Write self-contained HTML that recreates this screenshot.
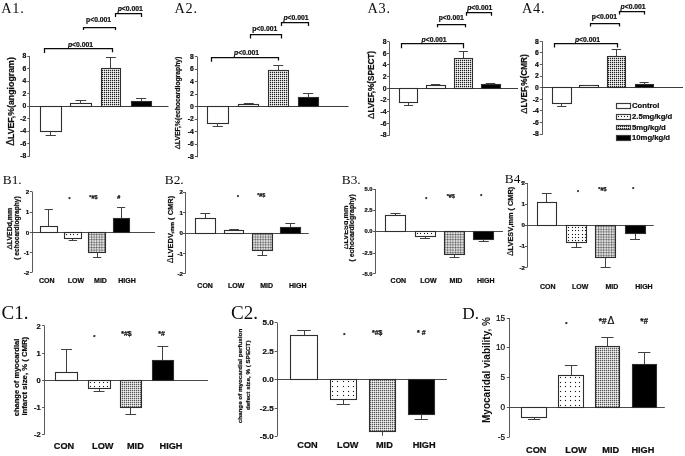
<!DOCTYPE html>
<html><head><meta charset="utf-8"><title>Figure</title>
<style>html,body{margin:0;padding:0;background:#fff;width:685px;height:456px;overflow:hidden}svg{display:block;filter:grayscale(1) blur(0.3px)}text{stroke:#111;stroke-width:0.22px}</style>
</head><body>
<svg width="685" height="456" viewBox="0 0 685 456"><defs><pattern id="p1" patternUnits="userSpaceOnUse" width="2" height="2"><rect width="2" height="2" fill="#f6f6f6"/><rect width="2" height="1" fill="#c8c8c8"/><rect width="1" height="2" fill="#c8c8c8"/><rect width="1" height="1" fill="#1e1e1e"/></pattern><pattern id="p2" patternUnits="userSpaceOnUse" width="2.6" height="2.6"><rect width="2.6" height="2.6" fill="#ececec"/><rect width="2.6" height="1" fill="#9a9a9a"/><rect width="1" height="2.6" fill="#9a9a9a"/><rect width="1" height="1" fill="#555"/></pattern><clipPath id="clipB3"><rect x="344.2" y="180" width="50" height="100"/></clipPath><pattern id="p3" patternUnits="userSpaceOnUse" width="2" height="2"><rect width="2" height="2" fill="#f0f0f0"/><rect width="2" height="1" fill="#c6c6c6"/><rect width="1" height="2" fill="#c6c6c6"/><rect width="1" height="1" fill="#555555"/></pattern></defs><rect width="685" height="456" fill="#fff"/><text x="1.3" y="13.3" font-family="Liberation Serif" font-size="14.3" font-weight="normal" text-anchor="start" fill="#0d0d0d" letter-spacing="0.7" style="stroke:none">A1.</text>
<line x1="29.5" y1="56" x2="29.5" y2="156.8" stroke="#5a5a5a" stroke-width="1.0"/>
<line x1="27.3" y1="56.5" x2="29.5" y2="56.5" stroke="#5a5a5a" stroke-width="1.0"/>
<text x="26.3" y="58.41" font-family="Liberation Sans" font-size="6.8" font-weight="bold" text-anchor="end" fill="#0d0d0d">8</text>
<line x1="27.3" y1="68.5" x2="29.5" y2="68.5" stroke="#5a5a5a" stroke-width="1.0"/>
<text x="26.3" y="70.91" font-family="Liberation Sans" font-size="6.8" font-weight="bold" text-anchor="end" fill="#0d0d0d">6</text>
<line x1="27.3" y1="81.5" x2="29.5" y2="81.5" stroke="#5a5a5a" stroke-width="1.0"/>
<text x="26.3" y="83.41" font-family="Liberation Sans" font-size="6.8" font-weight="bold" text-anchor="end" fill="#0d0d0d">4</text>
<line x1="27.3" y1="93.5" x2="29.5" y2="93.5" stroke="#5a5a5a" stroke-width="1.0"/>
<text x="26.3" y="95.91" font-family="Liberation Sans" font-size="6.8" font-weight="bold" text-anchor="end" fill="#0d0d0d">2</text>
<line x1="27.3" y1="106.5" x2="29.5" y2="106.5" stroke="#5a5a5a" stroke-width="1.0"/>
<text x="26.3" y="108.41" font-family="Liberation Sans" font-size="6.8" font-weight="bold" text-anchor="end" fill="#0d0d0d">0</text>
<line x1="27.3" y1="118.5" x2="29.5" y2="118.5" stroke="#5a5a5a" stroke-width="1.0"/>
<text x="26.3" y="120.91" font-family="Liberation Sans" font-size="6.8" font-weight="bold" text-anchor="end" fill="#0d0d0d">-2</text>
<line x1="27.3" y1="131.5" x2="29.5" y2="131.5" stroke="#5a5a5a" stroke-width="1.0"/>
<text x="26.3" y="133.41" font-family="Liberation Sans" font-size="6.8" font-weight="bold" text-anchor="end" fill="#0d0d0d">-4</text>
<line x1="27.3" y1="143.5" x2="29.5" y2="143.5" stroke="#5a5a5a" stroke-width="1.0"/>
<text x="26.3" y="145.91" font-family="Liberation Sans" font-size="6.8" font-weight="bold" text-anchor="end" fill="#0d0d0d">-6</text>
<line x1="27.3" y1="156.5" x2="29.5" y2="156.5" stroke="#5a5a5a" stroke-width="1.0"/>
<text x="26.3" y="158.41" font-family="Liberation Sans" font-size="6.8" font-weight="bold" text-anchor="end" fill="#0d0d0d">-8</text>
<text x="13.6" y="101.5" font-family="Liberation Sans" font-size="8.8" font-weight="bold" text-anchor="middle" fill="#0d0d0d" transform="rotate(-90 13.6 101.5)"><tspan font-weight="normal" font-size="1.15em">&#916;</tspan>LVEF,%(angiogram)</text>
<line x1="29.5" y1="106.5" x2="168.5" y2="106.5" stroke="#3c3c3c" stroke-width="1.0"/>
<rect x="40.5" y="106.5" width="21" height="25" fill="#fff" stroke="#2e2e2e" stroke-width="1.1"/>
<line x1="50.5" y1="131.3" x2="50.5" y2="135" stroke="#404040" stroke-width="1.0"/>
<line x1="45.62" y1="135.5" x2="55.88" y2="135.5" stroke="#404040" stroke-width="1.0"/>
<rect x="70.5" y="103.5" width="21" height="3" fill="#fff" stroke="#2e2e2e" stroke-width="1.1"/>
<line x1="80.5" y1="103.6" x2="80.5" y2="100.4" stroke="#404040" stroke-width="1.0"/>
<line x1="75.6" y1="100.5" x2="86.2" y2="100.5" stroke="#404040" stroke-width="1.0"/>
<rect x="101.5" y="68.5" width="19" height="38" fill="url(#p1)" stroke="#2e2e2e" stroke-width="1.1"/>
<line x1="110.5" y1="68.8" x2="110.5" y2="57.3" stroke="#404040" stroke-width="1.0"/>
<line x1="105.94" y1="57.5" x2="115.81" y2="57.5" stroke="#404040" stroke-width="1.0"/>
<rect x="131.5" y="101.5" width="20" height="5" fill="#000" stroke="#2e2e2e" stroke-width="1.1"/>
<line x1="141.5" y1="101.3" x2="141.5" y2="98.3" stroke="#404040" stroke-width="1.0"/>
<line x1="136.06" y1="98.5" x2="146.19" y2="98.5" stroke="#404040" stroke-width="1.0"/>
<polyline points="44.5,53 44.5,48.5 112.5,48.5 112.5,52.2" fill="none" stroke="#0a0a0a" stroke-width="1.25"/>
<text x="80.5" y="46.7" font-family="Liberation Sans" font-size="6.8" font-weight="bold" text-anchor="middle" fill="#0d0d0d"><tspan font-style="italic">p</tspan>&lt;0.001</text>
<polyline points="83.5,30 83.5,27.5 115.5,27.5 115.5,30" fill="none" stroke="#0a0a0a" stroke-width="1.25"/>
<text x="98.6" y="22.2" font-family="Liberation Sans" font-size="6.8" font-weight="bold" text-anchor="middle" fill="#0d0d0d">p&lt;0.001</text>
<polyline points="115.5,17 115.5,13.5 141.5,13.5 141.5,17" fill="none" stroke="#0a0a0a" stroke-width="1.25"/>
<text x="130.2" y="11.2" font-family="Liberation Sans" font-size="6.8" font-weight="bold" text-anchor="middle" fill="#0d0d0d"><tspan font-style="italic">p</tspan>&lt;0.001</text>
<text x="174.6" y="12.6" font-family="Liberation Serif" font-size="14.3" font-weight="normal" text-anchor="start" fill="#0d0d0d" letter-spacing="0.7" style="stroke:none">A2.</text>
<line x1="197.5" y1="56.5" x2="197.5" y2="157.3" stroke="#5a5a5a" stroke-width="1.0"/>
<line x1="194.8" y1="56.5" x2="197" y2="56.5" stroke="#5a5a5a" stroke-width="1.0"/>
<text x="193.8" y="58.91" font-family="Liberation Sans" font-size="6.8" font-weight="bold" text-anchor="end" fill="#0d0d0d">8</text>
<line x1="194.8" y1="69.5" x2="197" y2="69.5" stroke="#5a5a5a" stroke-width="1.0"/>
<text x="193.8" y="71.41" font-family="Liberation Sans" font-size="6.8" font-weight="bold" text-anchor="end" fill="#0d0d0d">6</text>
<line x1="194.8" y1="81.5" x2="197" y2="81.5" stroke="#5a5a5a" stroke-width="1.0"/>
<text x="193.8" y="83.91" font-family="Liberation Sans" font-size="6.8" font-weight="bold" text-anchor="end" fill="#0d0d0d">4</text>
<line x1="194.8" y1="94.5" x2="197" y2="94.5" stroke="#5a5a5a" stroke-width="1.0"/>
<text x="193.8" y="96.41" font-family="Liberation Sans" font-size="6.8" font-weight="bold" text-anchor="end" fill="#0d0d0d">2</text>
<line x1="194.8" y1="106.5" x2="197" y2="106.5" stroke="#5a5a5a" stroke-width="1.0"/>
<text x="193.8" y="108.91" font-family="Liberation Sans" font-size="6.8" font-weight="bold" text-anchor="end" fill="#0d0d0d">0</text>
<line x1="194.8" y1="119.5" x2="197" y2="119.5" stroke="#5a5a5a" stroke-width="1.0"/>
<text x="193.8" y="121.41" font-family="Liberation Sans" font-size="6.8" font-weight="bold" text-anchor="end" fill="#0d0d0d">-2</text>
<line x1="194.8" y1="131.5" x2="197" y2="131.5" stroke="#5a5a5a" stroke-width="1.0"/>
<text x="193.8" y="133.91" font-family="Liberation Sans" font-size="6.8" font-weight="bold" text-anchor="end" fill="#0d0d0d">-4</text>
<line x1="194.8" y1="144.5" x2="197" y2="144.5" stroke="#5a5a5a" stroke-width="1.0"/>
<text x="193.8" y="146.41" font-family="Liberation Sans" font-size="6.8" font-weight="bold" text-anchor="end" fill="#0d0d0d">-6</text>
<line x1="194.8" y1="156.5" x2="197" y2="156.5" stroke="#5a5a5a" stroke-width="1.0"/>
<text x="193.8" y="158.91" font-family="Liberation Sans" font-size="6.8" font-weight="bold" text-anchor="end" fill="#0d0d0d">-8</text>
<text x="179.6" y="103" font-family="Liberation Sans" font-size="6.8" font-weight="bold" text-anchor="middle" fill="#0d0d0d" transform="rotate(-90 179.6 103)"><tspan font-weight="normal" font-size="1.15em">&#916;</tspan>LVEF,%(echocardiography)</text>
<line x1="197" y1="106.5" x2="348.5" y2="106.5" stroke="#3c3c3c" stroke-width="1.0"/>
<rect x="207.5" y="106.5" width="21" height="17" fill="#fff" stroke="#2e2e2e" stroke-width="1.1"/>
<line x1="217.5" y1="123" x2="217.5" y2="126.3" stroke="#404040" stroke-width="1.0"/>
<line x1="212.62" y1="126.5" x2="222.88" y2="126.5" stroke="#404040" stroke-width="1.0"/>
<rect x="238.5" y="104.5" width="20" height="2" fill="#fff" stroke="#2e2e2e" stroke-width="1.1"/>
<line x1="248.5" y1="104.5" x2="248.5" y2="103" stroke="#404040" stroke-width="1.0"/>
<line x1="243.75" y1="103.5" x2="253.75" y2="103.5" stroke="#404040" stroke-width="1.0"/>
<rect x="268.5" y="70.5" width="20" height="36" fill="url(#p1)" stroke="#2e2e2e" stroke-width="1.1"/>
<line x1="278.5" y1="70.75" x2="278.5" y2="65" stroke="#404040" stroke-width="1.0"/>
<line x1="273.25" y1="65.5" x2="283.25" y2="65.5" stroke="#404040" stroke-width="1.0"/>
<rect x="298.5" y="97.5" width="20" height="9" fill="#000" stroke="#2e2e2e" stroke-width="1.1"/>
<line x1="308.5" y1="97.3" x2="308.5" y2="93.4" stroke="#404040" stroke-width="1.0"/>
<line x1="303.06" y1="93.5" x2="313.19" y2="93.5" stroke="#404040" stroke-width="1.0"/>
<polyline points="211.5,61.7 211.5,57.5 278.5,57.5 278.5,60.6" fill="none" stroke="#0a0a0a" stroke-width="1.25"/>
<text x="246.6" y="55" font-family="Liberation Sans" font-size="6.8" font-weight="bold" text-anchor="middle" fill="#0d0d0d"><tspan font-style="italic">p</tspan>&lt;0.001</text>
<polyline points="250.5,38.6 250.5,34.5 281.5,34.5 281.5,38.6" fill="none" stroke="#0a0a0a" stroke-width="1.25"/>
<text x="264.75" y="30.6" font-family="Liberation Sans" font-size="6.8" font-weight="bold" text-anchor="middle" fill="#0d0d0d">p&lt;0.001</text>
<polyline points="281.5,26.1 281.5,22.5 308.5,22.5 308.5,26.1" fill="none" stroke="#0a0a0a" stroke-width="1.25"/>
<text x="296" y="20.2" font-family="Liberation Sans" font-size="6.8" font-weight="bold" text-anchor="middle" fill="#0d0d0d"><tspan font-style="italic">p</tspan>&lt;0.001</text>
<text x="367.6" y="12.6" font-family="Liberation Serif" font-size="14.3" font-weight="normal" text-anchor="start" fill="#0d0d0d" letter-spacing="0.7" style="stroke:none">A3.</text>
<line x1="389.5" y1="41.58" x2="389.5" y2="135.82" stroke="#5a5a5a" stroke-width="1.0"/>
<line x1="387" y1="41.5" x2="389.2" y2="41.5" stroke="#5a5a5a" stroke-width="1.0"/>
<text x="386.5" y="43.99" font-family="Liberation Sans" font-size="6.8" font-weight="bold" text-anchor="end" fill="#0d0d0d">8</text>
<line x1="387" y1="53.5" x2="389.2" y2="53.5" stroke="#5a5a5a" stroke-width="1.0"/>
<text x="386.5" y="55.67" font-family="Liberation Sans" font-size="6.8" font-weight="bold" text-anchor="end" fill="#0d0d0d">6</text>
<line x1="387" y1="64.5" x2="389.2" y2="64.5" stroke="#5a5a5a" stroke-width="1.0"/>
<text x="386.5" y="67.35" font-family="Liberation Sans" font-size="6.8" font-weight="bold" text-anchor="end" fill="#0d0d0d">4</text>
<line x1="387" y1="76.5" x2="389.2" y2="76.5" stroke="#5a5a5a" stroke-width="1.0"/>
<text x="386.5" y="79.03" font-family="Liberation Sans" font-size="6.8" font-weight="bold" text-anchor="end" fill="#0d0d0d">2</text>
<line x1="387" y1="88.5" x2="389.2" y2="88.5" stroke="#5a5a5a" stroke-width="1.0"/>
<text x="386.5" y="90.71" font-family="Liberation Sans" font-size="6.8" font-weight="bold" text-anchor="end" fill="#0d0d0d">0</text>
<line x1="387" y1="99.5" x2="389.2" y2="99.5" stroke="#5a5a5a" stroke-width="1.0"/>
<text x="386.5" y="102.39" font-family="Liberation Sans" font-size="6.8" font-weight="bold" text-anchor="end" fill="#0d0d0d">-2</text>
<line x1="387" y1="111.5" x2="389.2" y2="111.5" stroke="#5a5a5a" stroke-width="1.0"/>
<text x="386.5" y="114.07" font-family="Liberation Sans" font-size="6.8" font-weight="bold" text-anchor="end" fill="#0d0d0d">-4</text>
<line x1="387" y1="123.5" x2="389.2" y2="123.5" stroke="#5a5a5a" stroke-width="1.0"/>
<text x="386.5" y="125.75" font-family="Liberation Sans" font-size="6.8" font-weight="bold" text-anchor="end" fill="#0d0d0d">-6</text>
<line x1="387" y1="135.5" x2="389.2" y2="135.5" stroke="#5a5a5a" stroke-width="1.0"/>
<text x="386.5" y="137.43" font-family="Liberation Sans" font-size="6.8" font-weight="bold" text-anchor="end" fill="#0d0d0d">-8</text>
<text x="373.8" y="84.9" font-family="Liberation Sans" font-size="8.2" font-weight="bold" text-anchor="middle" fill="#0d0d0d" transform="rotate(-90 373.8 84.9)"><tspan font-weight="normal" font-size="1.15em">&#916;</tspan>LVEF,%(SPECT)</text>
<line x1="389.2" y1="88.5" x2="518" y2="88.5" stroke="#3c3c3c" stroke-width="1.0"/>
<rect x="399.5" y="88.5" width="18" height="14" fill="#fff" stroke="#2e2e2e" stroke-width="1.1"/>
<line x1="408.5" y1="102.5" x2="408.5" y2="105" stroke="#404040" stroke-width="1.0"/>
<line x1="404" y1="105.5" x2="413" y2="105.5" stroke="#404040" stroke-width="1.0"/>
<rect x="426.5" y="85.5" width="19" height="3" fill="#fff" stroke="#2e2e2e" stroke-width="1.1"/>
<line x1="435.5" y1="85.5" x2="435.5" y2="84.3" stroke="#404040" stroke-width="1.0"/>
<line x1="430.94" y1="84.5" x2="440.31" y2="84.5" stroke="#404040" stroke-width="1.0"/>
<rect x="454.5" y="58.5" width="18" height="30" fill="url(#p1)" stroke="#2e2e2e" stroke-width="1.1"/>
<line x1="463.5" y1="58" x2="463.5" y2="51.1" stroke="#404040" stroke-width="1.0"/>
<line x1="458.81" y1="51.5" x2="467.94" y2="51.5" stroke="#404040" stroke-width="1.0"/>
<rect x="481.5" y="84.5" width="19" height="4" fill="#000" stroke="#2e2e2e" stroke-width="1.1"/>
<line x1="490.5" y1="84.5" x2="490.5" y2="83.3" stroke="#404040" stroke-width="1.0"/>
<line x1="485.75" y1="83.5" x2="495.25" y2="83.5" stroke="#404040" stroke-width="1.0"/>
<polyline points="401.5,48.2 401.5,43.5 463.5,43.5 463.5,48.2" fill="none" stroke="#0a0a0a" stroke-width="1.25"/>
<text x="434.1" y="42.4" font-family="Liberation Sans" font-size="6.8" font-weight="bold" text-anchor="middle" fill="#0d0d0d"><tspan font-style="italic">p</tspan>&lt;0.001</text>
<polyline points="437.5,27.3 437.5,24.5 465.5,24.5 465.5,27.3" fill="none" stroke="#0a0a0a" stroke-width="1.25"/>
<text x="451.25" y="20.3" font-family="Liberation Sans" font-size="6.8" font-weight="bold" text-anchor="middle" fill="#0d0d0d">p&lt;0.001</text>
<polyline points="466.5,15.7 466.5,12.5 491.5,12.5 491.5,15.7" fill="none" stroke="#0a0a0a" stroke-width="1.25"/>
<text x="479.75" y="10.2" font-family="Liberation Sans" font-size="6.8" font-weight="bold" text-anchor="middle" fill="#0d0d0d"><tspan font-style="italic">p</tspan>&lt;0.001</text>
<text x="522.1" y="12.6" font-family="Liberation Serif" font-size="14.3" font-weight="normal" text-anchor="start" fill="#0d0d0d" letter-spacing="0.7" style="stroke:none">A4.</text>
<line x1="542.5" y1="41.2" x2="542.5" y2="134.8" stroke="#5a5a5a" stroke-width="1.0"/>
<line x1="539.8" y1="41.5" x2="542" y2="41.5" stroke="#5a5a5a" stroke-width="1.0"/>
<text x="538.8" y="43.61" font-family="Liberation Sans" font-size="6.8" font-weight="bold" text-anchor="end" fill="#0d0d0d">8</text>
<line x1="539.8" y1="52.5" x2="542" y2="52.5" stroke="#5a5a5a" stroke-width="1.0"/>
<text x="538.8" y="55.21" font-family="Liberation Sans" font-size="6.8" font-weight="bold" text-anchor="end" fill="#0d0d0d">6</text>
<line x1="539.8" y1="64.5" x2="542" y2="64.5" stroke="#5a5a5a" stroke-width="1.0"/>
<text x="538.8" y="66.81" font-family="Liberation Sans" font-size="6.8" font-weight="bold" text-anchor="end" fill="#0d0d0d">4</text>
<line x1="539.8" y1="76.5" x2="542" y2="76.5" stroke="#5a5a5a" stroke-width="1.0"/>
<text x="538.8" y="78.41" font-family="Liberation Sans" font-size="6.8" font-weight="bold" text-anchor="end" fill="#0d0d0d">2</text>
<line x1="539.8" y1="87.5" x2="542" y2="87.5" stroke="#5a5a5a" stroke-width="1.0"/>
<text x="538.8" y="90.01" font-family="Liberation Sans" font-size="6.8" font-weight="bold" text-anchor="end" fill="#0d0d0d">0</text>
<line x1="539.8" y1="99.5" x2="542" y2="99.5" stroke="#5a5a5a" stroke-width="1.0"/>
<text x="538.8" y="101.61" font-family="Liberation Sans" font-size="6.8" font-weight="bold" text-anchor="end" fill="#0d0d0d">-2</text>
<line x1="539.8" y1="110.5" x2="542" y2="110.5" stroke="#5a5a5a" stroke-width="1.0"/>
<text x="538.8" y="113.21" font-family="Liberation Sans" font-size="6.8" font-weight="bold" text-anchor="end" fill="#0d0d0d">-4</text>
<line x1="539.8" y1="122.5" x2="542" y2="122.5" stroke="#5a5a5a" stroke-width="1.0"/>
<text x="538.8" y="124.81" font-family="Liberation Sans" font-size="6.8" font-weight="bold" text-anchor="end" fill="#0d0d0d">-6</text>
<line x1="539.8" y1="134.5" x2="542" y2="134.5" stroke="#5a5a5a" stroke-width="1.0"/>
<text x="538.8" y="136.41" font-family="Liberation Sans" font-size="6.8" font-weight="bold" text-anchor="end" fill="#0d0d0d">-8</text>
<text x="526.6" y="84" font-family="Liberation Sans" font-size="8.2" font-weight="bold" text-anchor="middle" fill="#0d0d0d" transform="rotate(-90 526.6 84)"><tspan font-weight="normal" font-size="1.15em">&#916;</tspan>LVEF,%(CMR)</text>
<line x1="542" y1="87.5" x2="683" y2="87.5" stroke="#3c3c3c" stroke-width="1.0"/>
<rect x="552.5" y="87.5" width="19" height="16" fill="#fff" stroke="#2e2e2e" stroke-width="1.1"/>
<line x1="561.5" y1="103" x2="561.5" y2="106.3" stroke="#404040" stroke-width="1.0"/>
<line x1="557.12" y1="106.5" x2="566.38" y2="106.5" stroke="#404040" stroke-width="1.0"/>
<rect x="579.5" y="85.5" width="19" height="2" fill="#fff" stroke="#2e2e2e" stroke-width="1.1"/>
<line x1="588.5" y1="85.9" x2="588.5" y2="85.2" stroke="#404040" stroke-width="1.0"/>
<line x1="584.19" y1="85.5" x2="593.56" y2="85.5" stroke="#404040" stroke-width="1.0"/>
<rect x="607.5" y="56.5" width="18" height="31" fill="url(#p1)" stroke="#2e2e2e" stroke-width="1.1"/>
<line x1="616.5" y1="56.6" x2="616.5" y2="49.3" stroke="#404040" stroke-width="1.0"/>
<line x1="611.69" y1="49.5" x2="621.06" y2="49.5" stroke="#404040" stroke-width="1.0"/>
<rect x="635.5" y="84.5" width="18" height="3" fill="#000" stroke="#2e2e2e" stroke-width="1.1"/>
<line x1="644.5" y1="84.1" x2="644.5" y2="82" stroke="#404040" stroke-width="1.0"/>
<line x1="639.58" y1="82.5" x2="648.72" y2="82.5" stroke="#404040" stroke-width="1.0"/>
<polyline points="554.5,47.4 554.5,43.5 617.5,43.5 617.5,47.4" fill="none" stroke="#0a0a0a" stroke-width="1.25"/>
<text x="587.5" y="41.8" font-family="Liberation Sans" font-size="6.8" font-weight="bold" text-anchor="middle" fill="#0d0d0d"><tspan font-style="italic">p</tspan>&lt;0.001</text>
<polyline points="590.5,26.5 590.5,23.5 619.5,23.5 619.5,26.5" fill="none" stroke="#0a0a0a" stroke-width="1.25"/>
<text x="604.4" y="19.4" font-family="Liberation Sans" font-size="6.8" font-weight="bold" text-anchor="middle" fill="#0d0d0d">p&lt;0.001</text>
<polyline points="619.5,14.5 619.5,11.5 644.5,11.5 644.5,14.5" fill="none" stroke="#0a0a0a" stroke-width="1.25"/>
<text x="633.1" y="9.2" font-family="Liberation Sans" font-size="6.8" font-weight="bold" text-anchor="middle" fill="#0d0d0d"><tspan font-style="italic">p</tspan>&lt;0.001</text>
<rect x="616.5" y="103.5" width="14" height="5" fill="#fff" stroke="#3a3a3a" stroke-width="1.15"/>
<text x="632" y="108.1" font-family="Liberation Sans" font-size="7.7" font-weight="bold" text-anchor="start" fill="#0d0d0d">Control</text>
<rect x="616.5" y="114.5" width="14" height="5" fill="#fff" stroke="#3a3a3a" stroke-width="1.15"/>
<rect x="617.95" y="115.95" width="1.1" height="1.1" fill="#161616"/>
<rect x="620.95" y="115.95" width="1.1" height="1.1" fill="#161616"/>
<rect x="623.95" y="115.95" width="1.1" height="1.1" fill="#161616"/>
<rect x="626.95" y="115.95" width="1.1" height="1.1" fill="#161616"/>
<text x="632" y="118.8" font-family="Liberation Sans" font-size="7.7" font-weight="bold" text-anchor="start" fill="#0d0d0d">2.5mg/kg/d</text>
<rect x="616.5" y="125.5" width="14" height="4" fill="url(#p1)" stroke="#3a3a3a" stroke-width="1.15"/>
<text x="632" y="129.5" font-family="Liberation Sans" font-size="7.7" font-weight="bold" text-anchor="start" fill="#0d0d0d">5mg/kg/d</text>
<rect x="616.5" y="135.5" width="14" height="5" fill="#000" stroke="#3a3a3a" stroke-width="1.15"/>
<text x="632" y="140.2" font-family="Liberation Sans" font-size="7.7" font-weight="bold" text-anchor="start" fill="#0d0d0d">10mg/kg/d</text>
<text x="2.8" y="183.9" font-family="Liberation Serif" font-size="13.3" font-weight="normal" text-anchor="start" fill="#0d0d0d" style="stroke:none">B1.</text>
<line x1="32.5" y1="191.5" x2="32.5" y2="272.5" stroke="#5a5a5a" stroke-width="1.0"/>
<line x1="29.8" y1="191.5" x2="32" y2="191.5" stroke="#5a5a5a" stroke-width="1.0"/>
<text x="29.2" y="193.7" font-family="Liberation Sans" font-size="6.2" font-weight="bold" text-anchor="end" fill="#0d0d0d">2</text>
<line x1="29.8" y1="212.5" x2="32" y2="212.5" stroke="#5a5a5a" stroke-width="1.0"/>
<text x="29.2" y="214.2" font-family="Liberation Sans" font-size="6.2" font-weight="bold" text-anchor="end" fill="#0d0d0d">1</text>
<line x1="29.8" y1="232.5" x2="32" y2="232.5" stroke="#5a5a5a" stroke-width="1.0"/>
<text x="29.2" y="234.7" font-family="Liberation Sans" font-size="6.2" font-weight="bold" text-anchor="end" fill="#0d0d0d">0</text>
<line x1="29.8" y1="252.5" x2="32" y2="252.5" stroke="#5a5a5a" stroke-width="1.0"/>
<text x="29.2" y="254.7" font-family="Liberation Sans" font-size="6.2" font-weight="bold" text-anchor="end" fill="#0d0d0d">-1</text>
<line x1="29.8" y1="272.5" x2="32" y2="272.5" stroke="#5a5a5a" stroke-width="1.0"/>
<text x="29.2" y="274.7" font-family="Liberation Sans" font-size="6.2" font-weight="bold" text-anchor="end" fill="#0d0d0d">-2</text>
<text x="12.2" y="228.75" font-family="Liberation Sans" font-size="6.9" font-weight="bold" text-anchor="middle" fill="#0d0d0d" transform="rotate(-90 12.2 228.75)"><tspan font-weight="normal" font-size="1.15em">&#916;</tspan>LVEDd,mm</text>
<text x="18.6" y="228" font-family="Liberation Sans" font-size="6.6" font-weight="bold" text-anchor="middle" fill="#0d0d0d" transform="rotate(-90 18.6 228)">( echocardiography)</text>
<line x1="32" y1="232.5" x2="155" y2="232.5" stroke="#4a4a4a" stroke-width="1.0"/>
<rect x="40.5" y="226.5" width="17" height="6" fill="#fff" stroke="#2e2e2e" stroke-width="1.1"/>
<line x1="48.5" y1="226.5" x2="48.5" y2="209.3" stroke="#404040" stroke-width="1.0"/>
<line x1="44.62" y1="209.5" x2="52.88" y2="209.5" stroke="#404040" stroke-width="1.0"/>
<rect x="64.5" y="232.5" width="17" height="6" fill="#fff" stroke="#2e2e2e" stroke-width="1.1"/>
<rect x="65.95" y="233.95" width="1.1" height="1.1" fill="#161616"/>
<rect x="69.95" y="233.95" width="1.1" height="1.1" fill="#161616"/>
<rect x="72.95" y="233.95" width="1.1" height="1.1" fill="#161616"/>
<rect x="76.95" y="233.95" width="1.1" height="1.1" fill="#161616"/>
<line x1="72.5" y1="238.75" x2="72.5" y2="240.2" stroke="#404040" stroke-width="1.0"/>
<line x1="68.69" y1="240.5" x2="77.06" y2="240.5" stroke="#404040" stroke-width="1.0"/>
<rect x="88.5" y="232.5" width="17" height="20" fill="url(#p2)" stroke="#2e2e2e" stroke-width="1.1"/>
<line x1="97.5" y1="252.5" x2="97.5" y2="257.5" stroke="#404040" stroke-width="1.0"/>
<line x1="92.94" y1="257.5" x2="101.31" y2="257.5" stroke="#404040" stroke-width="1.0"/>
<rect x="113.5" y="218.5" width="16" height="14" fill="#000" stroke="#2e2e2e" stroke-width="1.1"/>
<line x1="121.5" y1="218" x2="121.5" y2="207" stroke="#404040" stroke-width="1.0"/>
<line x1="117.06" y1="207.5" x2="125.19" y2="207.5" stroke="#404040" stroke-width="1.0"/>
<text x="69.6" y="201.4" font-family="Liberation Sans" font-size="5" font-weight="bold" text-anchor="middle" fill="#0d0d0d">*</text>
<text x="93.5" y="199.1" font-family="Liberation Sans" font-size="5.5" font-weight="bold" text-anchor="middle" fill="#0d0d0d">*#$</text>
<text x="118.9" y="198.9" font-family="Liberation Sans" font-size="5.5" font-weight="bold" text-anchor="middle" fill="#0d0d0d">#</text>
<text x="46.8" y="283.2" font-family="Liberation Sans" font-size="7" font-weight="bold" text-anchor="middle" fill="#0d0d0d">CON</text>
<text x="75.85" y="283.2" font-family="Liberation Sans" font-size="7" font-weight="bold" text-anchor="middle" fill="#0d0d0d">LOW</text>
<text x="100.5" y="283.2" font-family="Liberation Sans" font-size="7" font-weight="bold" text-anchor="middle" fill="#0d0d0d">MID</text>
<text x="127" y="283.2" font-family="Liberation Sans" font-size="7" font-weight="bold" text-anchor="middle" fill="#0d0d0d">HIGH</text>
<text x="164.8" y="184.3" font-family="Liberation Serif" font-size="13.3" font-weight="normal" text-anchor="start" fill="#0d0d0d" style="stroke:none">B2.</text>
<line x1="185.5" y1="192" x2="185.5" y2="273.75" stroke="#5a5a5a" stroke-width="1.0"/>
<line x1="182.8" y1="192.5" x2="185" y2="192.5" stroke="#5a5a5a" stroke-width="1.0"/>
<text x="183" y="194.2" font-family="Liberation Sans" font-size="6.2" font-weight="bold" text-anchor="end" fill="#0d0d0d">2</text>
<line x1="182.8" y1="212.5" x2="185" y2="212.5" stroke="#5a5a5a" stroke-width="1.0"/>
<text x="183" y="214.7" font-family="Liberation Sans" font-size="6.2" font-weight="bold" text-anchor="end" fill="#0d0d0d">1</text>
<line x1="182.8" y1="233.5" x2="185" y2="233.5" stroke="#5a5a5a" stroke-width="1.0"/>
<text x="183" y="235.2" font-family="Liberation Sans" font-size="6.2" font-weight="bold" text-anchor="end" fill="#0d0d0d">0</text>
<line x1="182.8" y1="253.5" x2="185" y2="253.5" stroke="#5a5a5a" stroke-width="1.0"/>
<text x="183" y="255.95" font-family="Liberation Sans" font-size="6.2" font-weight="bold" text-anchor="end" fill="#0d0d0d">-1</text>
<line x1="182.8" y1="273.5" x2="185" y2="273.5" stroke="#5a5a5a" stroke-width="1.0"/>
<text x="183" y="275.95" font-family="Liberation Sans" font-size="6.2" font-weight="bold" text-anchor="end" fill="#0d0d0d">-2</text>
<text x="173.2" y="229.5" font-family="Liberation Sans" font-size="7.5" font-weight="bold" text-anchor="middle" fill="#0d0d0d" transform="rotate(-90 173.2 229.5)"><tspan font-weight="normal" font-size="1.15em">&#916;</tspan>LVEDV,<tspan font-size="0.72em" dy="0.8">mm</tspan><tspan dy="-0.8"> ( CMR)</tspan></text>
<line x1="185" y1="233.5" x2="308.75" y2="233.5" stroke="#4a4a4a" stroke-width="1.0"/>
<rect x="195.5" y="218.5" width="20" height="15" fill="#fff" stroke="#2e2e2e" stroke-width="1.1"/>
<line x1="205.5" y1="218.75" x2="205.5" y2="213.25" stroke="#404040" stroke-width="1.0"/>
<line x1="200.38" y1="213.5" x2="210.12" y2="213.5" stroke="#404040" stroke-width="1.0"/>
<rect x="224.5" y="230.5" width="19" height="3" fill="#fff" stroke="#2e2e2e" stroke-width="1.1"/>
<line x1="234.5" y1="230.75" x2="234.5" y2="229.25" stroke="#404040" stroke-width="1.0"/>
<line x1="229.31" y1="229.5" x2="238.94" y2="229.5" stroke="#404040" stroke-width="1.0"/>
<rect x="252.5" y="233.5" width="20" height="17" fill="url(#p2)" stroke="#2e2e2e" stroke-width="1.1"/>
<line x1="262.5" y1="250" x2="262.5" y2="255.5" stroke="#404040" stroke-width="1.0"/>
<line x1="257.38" y1="255.5" x2="267.12" y2="255.5" stroke="#404040" stroke-width="1.0"/>
<rect x="280.5" y="227.5" width="20" height="6" fill="#000" stroke="#2e2e2e" stroke-width="1.1"/>
<line x1="290.5" y1="227" x2="290.5" y2="223" stroke="#404040" stroke-width="1.0"/>
<line x1="285.38" y1="223.5" x2="295.12" y2="223.5" stroke="#404040" stroke-width="1.0"/>
<text x="238" y="198.5" font-family="Liberation Sans" font-size="5" font-weight="bold" text-anchor="middle" fill="#0d0d0d">*</text>
<text x="261.3" y="196.9" font-family="Liberation Sans" font-size="5.5" font-weight="bold" text-anchor="middle" fill="#0d0d0d">*#$</text>
<text x="205.15" y="287.6" font-family="Liberation Sans" font-size="7" font-weight="bold" text-anchor="middle" fill="#0d0d0d">CON</text>
<text x="236.25" y="287.6" font-family="Liberation Sans" font-size="7" font-weight="bold" text-anchor="middle" fill="#0d0d0d">LOW</text>
<text x="266.65" y="287.6" font-family="Liberation Sans" font-size="7" font-weight="bold" text-anchor="middle" fill="#0d0d0d">MID</text>
<text x="297.7" y="287.6" font-family="Liberation Sans" font-size="7" font-weight="bold" text-anchor="middle" fill="#0d0d0d">HIGH</text>
<g clip-path="url(#clipB3)">
<text x="348.4" y="227.4" font-family="Liberation Sans" font-size="7.3" font-weight="bold" text-anchor="middle" fill="#0d0d0d" transform="rotate(-90 348.4 227.4)"><tspan font-weight="normal" font-size="1.15em">&#916;</tspan>LVESd,mm</text>
</g>
<text x="341.8" y="184" font-family="Liberation Serif" font-size="13.3" font-weight="normal" text-anchor="start" fill="#0d0d0d" style="stroke:none">B3.</text>
<line x1="375.5" y1="189" x2="375.5" y2="273.75" stroke="#5a5a5a" stroke-width="1.0"/>
<line x1="373.1" y1="189.5" x2="375.3" y2="189.5" stroke="#5a5a5a" stroke-width="1.0"/>
<text x="372.5" y="191.06" font-family="Liberation Sans" font-size="5.8" font-weight="bold" text-anchor="end" fill="#0d0d0d">5.0</text>
<line x1="373.1" y1="210.5" x2="375.3" y2="210.5" stroke="#5a5a5a" stroke-width="1.0"/>
<text x="372.5" y="212.31" font-family="Liberation Sans" font-size="5.8" font-weight="bold" text-anchor="end" fill="#0d0d0d">2.5</text>
<line x1="373.1" y1="231.5" x2="375.3" y2="231.5" stroke="#5a5a5a" stroke-width="1.0"/>
<text x="372.5" y="233.31" font-family="Liberation Sans" font-size="5.8" font-weight="bold" text-anchor="end" fill="#0d0d0d">0.0</text>
<line x1="373.1" y1="253.5" x2="375.3" y2="253.5" stroke="#5a5a5a" stroke-width="1.0"/>
<text x="372.5" y="255.06" font-family="Liberation Sans" font-size="5.8" font-weight="bold" text-anchor="end" fill="#0d0d0d">-2.5</text>
<line x1="373.1" y1="273.5" x2="375.3" y2="273.5" stroke="#5a5a5a" stroke-width="1.0"/>
<text x="372.5" y="275.81" font-family="Liberation Sans" font-size="5.8" font-weight="bold" text-anchor="end" fill="#0d0d0d">-5.0</text>
<text x="354.3" y="227.9" font-family="Liberation Sans" font-size="7" font-weight="bold" text-anchor="middle" fill="#0d0d0d" transform="rotate(-90 354.3 227.9)">( echocardiography)</text>
<line x1="375.3" y1="231.5" x2="503" y2="231.5" stroke="#4a4a4a" stroke-width="1.0"/>
<rect x="385.5" y="215.5" width="20" height="16" fill="#fff" stroke="#2e2e2e" stroke-width="1.1"/>
<line x1="395.5" y1="215.5" x2="395.5" y2="213" stroke="#404040" stroke-width="1.0"/>
<line x1="390.5" y1="213.5" x2="400.5" y2="213.5" stroke="#404040" stroke-width="1.0"/>
<rect x="415.5" y="231.5" width="20" height="5" fill="#fff" stroke="#2e2e2e" stroke-width="1.1"/>
<rect x="416.95" y="232.95" width="1.1" height="1.1" fill="#161616"/>
<rect x="419.95" y="232.95" width="1.1" height="1.1" fill="#161616"/>
<rect x="423.95" y="232.95" width="1.1" height="1.1" fill="#161616"/>
<rect x="426.95" y="232.95" width="1.1" height="1.1" fill="#161616"/>
<rect x="430.95" y="232.95" width="1.1" height="1.1" fill="#161616"/>
<line x1="425.5" y1="236.25" x2="425.5" y2="238" stroke="#404040" stroke-width="1.0"/>
<line x1="420" y1="238.5" x2="430" y2="238.5" stroke="#404040" stroke-width="1.0"/>
<rect x="444.5" y="231.5" width="20" height="23" fill="url(#p2)" stroke="#2e2e2e" stroke-width="1.1"/>
<line x1="454.5" y1="254.5" x2="454.5" y2="257.5" stroke="#404040" stroke-width="1.0"/>
<line x1="449.5" y1="257.5" x2="459.5" y2="257.5" stroke="#404040" stroke-width="1.0"/>
<rect x="473.5" y="231.5" width="20" height="8" fill="#000" stroke="#2e2e2e" stroke-width="1.1"/>
<line x1="483.5" y1="239.5" x2="483.5" y2="241.25" stroke="#404040" stroke-width="1.0"/>
<line x1="478.75" y1="241.5" x2="488.75" y2="241.5" stroke="#404040" stroke-width="1.0"/>
<text x="426.25" y="200.5" font-family="Liberation Sans" font-size="5" font-weight="bold" text-anchor="middle" fill="#0d0d0d">*</text>
<text x="450.8" y="198.1" font-family="Liberation Sans" font-size="5.5" font-weight="bold" text-anchor="middle" fill="#0d0d0d">*#$</text>
<text x="481.25" y="198" font-family="Liberation Sans" font-size="5" font-weight="bold" text-anchor="middle" fill="#0d0d0d">*</text>
<text x="398.4" y="282.7" font-family="Liberation Sans" font-size="7" font-weight="bold" text-anchor="middle" fill="#0d0d0d">CON</text>
<text x="428.4" y="282.7" font-family="Liberation Sans" font-size="7" font-weight="bold" text-anchor="middle" fill="#0d0d0d">LOW</text>
<text x="456" y="282.7" font-family="Liberation Sans" font-size="7" font-weight="bold" text-anchor="middle" fill="#0d0d0d">MID</text>
<text x="485.7" y="282.7" font-family="Liberation Sans" font-size="7" font-weight="bold" text-anchor="middle" fill="#0d0d0d">HIGH</text>
<text x="504.8" y="183" font-family="Liberation Serif" font-size="13.3" font-weight="normal" text-anchor="start" fill="#0d0d0d" style="stroke:none">B4.</text>
<line x1="527.5" y1="183" x2="527.5" y2="267.5" stroke="#5a5a5a" stroke-width="1.0"/>
<line x1="524.8" y1="183.5" x2="527" y2="183.5" stroke="#5a5a5a" stroke-width="1.0"/>
<text x="525" y="185.2" font-family="Liberation Sans" font-size="6.2" font-weight="bold" text-anchor="end" fill="#0d0d0d">2</text>
<line x1="524.8" y1="204.5" x2="527" y2="204.5" stroke="#5a5a5a" stroke-width="1.0"/>
<text x="525" y="206.45" font-family="Liberation Sans" font-size="6.2" font-weight="bold" text-anchor="end" fill="#0d0d0d">1</text>
<line x1="524.8" y1="225.5" x2="527" y2="225.5" stroke="#5a5a5a" stroke-width="1.0"/>
<text x="525" y="227.2" font-family="Liberation Sans" font-size="6.2" font-weight="bold" text-anchor="end" fill="#0d0d0d">0</text>
<line x1="524.8" y1="246.5" x2="527" y2="246.5" stroke="#5a5a5a" stroke-width="1.0"/>
<text x="525" y="248.45" font-family="Liberation Sans" font-size="6.2" font-weight="bold" text-anchor="end" fill="#0d0d0d">-1</text>
<line x1="524.8" y1="267.5" x2="527" y2="267.5" stroke="#5a5a5a" stroke-width="1.0"/>
<text x="525" y="269.7" font-family="Liberation Sans" font-size="6.2" font-weight="bold" text-anchor="end" fill="#0d0d0d">-2</text>
<text x="513" y="221.4" font-family="Liberation Sans" font-size="7.35" font-weight="bold" text-anchor="middle" fill="#0d0d0d" transform="rotate(-90 513 221.4)"><tspan font-weight="normal" font-size="1.15em">&#916;</tspan>LVESV,mm ( CMR)</text>
<line x1="527" y1="225.5" x2="653.75" y2="225.5" stroke="#4a4a4a" stroke-width="1.0"/>
<rect x="537.5" y="202.5" width="19" height="23" fill="#fff" stroke="#2e2e2e" stroke-width="1.1"/>
<line x1="546.5" y1="202" x2="546.5" y2="193.75" stroke="#404040" stroke-width="1.0"/>
<line x1="541.88" y1="193.5" x2="551.62" y2="193.5" stroke="#404040" stroke-width="1.0"/>
<rect x="566.5" y="225.5" width="20" height="17" fill="#fff" stroke="#2e2e2e" stroke-width="1.1"/>
<rect x="567.95" y="226.95" width="1.1" height="1.1" fill="#161616"/>
<rect x="571.95" y="226.95" width="1.1" height="1.1" fill="#161616"/>
<rect x="574.95" y="226.95" width="1.1" height="1.1" fill="#161616"/>
<rect x="577.95" y="226.95" width="1.1" height="1.1" fill="#161616"/>
<rect x="581.95" y="226.95" width="1.1" height="1.1" fill="#161616"/>
<rect x="584.95" y="226.95" width="1.1" height="1.1" fill="#161616"/>
<rect x="567.95" y="229.95" width="1.1" height="1.1" fill="#161616"/>
<rect x="571.95" y="229.95" width="1.1" height="1.1" fill="#161616"/>
<rect x="574.95" y="229.95" width="1.1" height="1.1" fill="#161616"/>
<rect x="577.95" y="229.95" width="1.1" height="1.1" fill="#161616"/>
<rect x="581.95" y="229.95" width="1.1" height="1.1" fill="#161616"/>
<rect x="584.95" y="229.95" width="1.1" height="1.1" fill="#161616"/>
<rect x="567.95" y="233.95" width="1.1" height="1.1" fill="#161616"/>
<rect x="571.95" y="233.95" width="1.1" height="1.1" fill="#161616"/>
<rect x="574.95" y="233.95" width="1.1" height="1.1" fill="#161616"/>
<rect x="577.95" y="233.95" width="1.1" height="1.1" fill="#161616"/>
<rect x="581.95" y="233.95" width="1.1" height="1.1" fill="#161616"/>
<rect x="584.95" y="233.95" width="1.1" height="1.1" fill="#161616"/>
<rect x="567.95" y="236.95" width="1.1" height="1.1" fill="#161616"/>
<rect x="571.95" y="236.95" width="1.1" height="1.1" fill="#161616"/>
<rect x="574.95" y="236.95" width="1.1" height="1.1" fill="#161616"/>
<rect x="577.95" y="236.95" width="1.1" height="1.1" fill="#161616"/>
<rect x="581.95" y="236.95" width="1.1" height="1.1" fill="#161616"/>
<rect x="584.95" y="236.95" width="1.1" height="1.1" fill="#161616"/>
<rect x="567.95" y="239.95" width="1.1" height="1.1" fill="#161616"/>
<rect x="571.95" y="239.95" width="1.1" height="1.1" fill="#161616"/>
<rect x="574.95" y="239.95" width="1.1" height="1.1" fill="#161616"/>
<rect x="577.95" y="239.95" width="1.1" height="1.1" fill="#161616"/>
<rect x="581.95" y="239.95" width="1.1" height="1.1" fill="#161616"/>
<rect x="584.95" y="239.95" width="1.1" height="1.1" fill="#161616"/>
<line x1="576.5" y1="242.5" x2="576.5" y2="247" stroke="#404040" stroke-width="1.0"/>
<line x1="571.38" y1="247.5" x2="581.62" y2="247.5" stroke="#404040" stroke-width="1.0"/>
<rect x="595.5" y="225.5" width="20" height="32" fill="url(#p2)" stroke="#2e2e2e" stroke-width="1.1"/>
<line x1="605.5" y1="257.5" x2="605.5" y2="267.5" stroke="#404040" stroke-width="1.0"/>
<line x1="600.56" y1="267.5" x2="610.69" y2="267.5" stroke="#404040" stroke-width="1.0"/>
<rect x="625.5" y="225.5" width="20" height="8" fill="#000" stroke="#2e2e2e" stroke-width="1.1"/>
<line x1="635.5" y1="233.75" x2="635.5" y2="239.25" stroke="#404040" stroke-width="1.0"/>
<line x1="630" y1="239.5" x2="640" y2="239.5" stroke="#404040" stroke-width="1.0"/>
<text x="578" y="194.3" font-family="Liberation Sans" font-size="5" font-weight="bold" text-anchor="middle" fill="#0d0d0d">*</text>
<text x="602.5" y="191.4" font-family="Liberation Sans" font-size="5.5" font-weight="bold" text-anchor="middle" fill="#0d0d0d">*#$</text>
<text x="633.25" y="191" font-family="Liberation Sans" font-size="5" font-weight="bold" text-anchor="middle" fill="#0d0d0d">*</text>
<text x="547.75" y="288.8" font-family="Liberation Sans" font-size="7" font-weight="bold" text-anchor="middle" fill="#0d0d0d">CON</text>
<text x="580.2" y="288.8" font-family="Liberation Sans" font-size="7" font-weight="bold" text-anchor="middle" fill="#0d0d0d">LOW</text>
<text x="611.9" y="288.8" font-family="Liberation Sans" font-size="7" font-weight="bold" text-anchor="middle" fill="#0d0d0d">MID</text>
<text x="643.9" y="288.8" font-family="Liberation Sans" font-size="7" font-weight="bold" text-anchor="middle" fill="#0d0d0d">HIGH</text>
<text x="1.6" y="318.6" font-family="Liberation Serif" font-size="19" font-weight="normal" text-anchor="start" fill="#0d0d0d" style="stroke:none">C1.</text>
<line x1="44.5" y1="325.9" x2="44.5" y2="434.5" stroke="#5a5a5a" stroke-width="1.0"/>
<line x1="42.1" y1="325.5" x2="44.6" y2="325.5" stroke="#5a5a5a" stroke-width="1.0"/>
<text x="40.6" y="328.56" font-family="Liberation Sans" font-size="7.5" font-weight="bold" text-anchor="end" fill="#0d0d0d">2</text>
<line x1="42.1" y1="353.5" x2="44.6" y2="353.5" stroke="#5a5a5a" stroke-width="1.0"/>
<text x="40.6" y="355.76" font-family="Liberation Sans" font-size="7.5" font-weight="bold" text-anchor="end" fill="#0d0d0d">1</text>
<line x1="42.1" y1="380.5" x2="44.6" y2="380.5" stroke="#5a5a5a" stroke-width="1.0"/>
<text x="40.6" y="382.91" font-family="Liberation Sans" font-size="7.5" font-weight="bold" text-anchor="end" fill="#0d0d0d">0</text>
<line x1="42.1" y1="407.5" x2="44.6" y2="407.5" stroke="#5a5a5a" stroke-width="1.0"/>
<text x="40.6" y="410.16" font-family="Liberation Sans" font-size="7.5" font-weight="bold" text-anchor="end" fill="#0d0d0d">-1</text>
<line x1="42.1" y1="434.5" x2="44.6" y2="434.5" stroke="#5a5a5a" stroke-width="1.0"/>
<text x="40.6" y="437.16" font-family="Liberation Sans" font-size="7.5" font-weight="bold" text-anchor="end" fill="#0d0d0d">-2</text>
<text x="18.6" y="377.5" font-family="Liberation Sans" font-size="7.55" font-weight="bold" text-anchor="middle" fill="#0d0d0d" transform="rotate(-90 18.6 377.5)">change of myocardial</text>
<text x="27.4" y="376.2" font-family="Liberation Sans" font-size="7.75" font-weight="bold" text-anchor="middle" fill="#0d0d0d" transform="rotate(-90 27.4 376.2)">infarct size, % ( CMR)</text>
<line x1="44.6" y1="380.5" x2="208" y2="380.5" stroke="#4a4a4a" stroke-width="1.0"/>
<rect x="55.5" y="372.5" width="22" height="8" fill="#fff" stroke="#2e2e2e" stroke-width="1.1"/>
<line x1="66.5" y1="372" x2="66.5" y2="349.75" stroke="#404040" stroke-width="1.0"/>
<line x1="61" y1="349.5" x2="72" y2="349.5" stroke="#404040" stroke-width="1.0"/>
<rect x="88.5" y="380.5" width="22" height="8" fill="#fff" stroke="#2e2e2e" stroke-width="1.1"/>
<rect x="89.95" y="381.95" width="1.1" height="1.1" fill="#161616"/>
<rect x="93.95" y="381.95" width="1.1" height="1.1" fill="#161616"/>
<rect x="98.95" y="381.95" width="1.1" height="1.1" fill="#161616"/>
<rect x="102.95" y="381.95" width="1.1" height="1.1" fill="#161616"/>
<rect x="106.95" y="381.95" width="1.1" height="1.1" fill="#161616"/>
<rect x="89.95" y="385.95" width="1.1" height="1.1" fill="#161616"/>
<rect x="93.95" y="385.95" width="1.1" height="1.1" fill="#161616"/>
<rect x="98.95" y="385.95" width="1.1" height="1.1" fill="#161616"/>
<rect x="102.95" y="385.95" width="1.1" height="1.1" fill="#161616"/>
<rect x="106.95" y="385.95" width="1.1" height="1.1" fill="#161616"/>
<line x1="99.5" y1="388.5" x2="99.5" y2="391" stroke="#404040" stroke-width="1.0"/>
<line x1="93.5" y1="391.5" x2="104.5" y2="391.5" stroke="#404040" stroke-width="1.0"/>
<rect x="120.5" y="380.5" width="21" height="27" fill="url(#p3)" stroke="#2e2e2e" stroke-width="1.1"/>
<line x1="130.5" y1="407.7" x2="130.5" y2="414.3" stroke="#404040" stroke-width="1.0"/>
<line x1="125.38" y1="414.5" x2="136.12" y2="414.5" stroke="#404040" stroke-width="1.0"/>
<rect x="152.5" y="360.5" width="21" height="20" fill="#000" stroke="#2e2e2e" stroke-width="1.1"/>
<line x1="162.5" y1="360.75" x2="162.5" y2="346.25" stroke="#404040" stroke-width="1.0"/>
<line x1="157.43" y1="346.5" x2="168.27" y2="346.5" stroke="#404040" stroke-width="1.0"/>
<text x="94.3" y="338.6" font-family="Liberation Sans" font-size="5.5" font-weight="bold" text-anchor="middle" fill="#0d0d0d">*</text>
<text x="126.45" y="335.7" font-family="Liberation Sans" font-size="7" font-weight="bold" text-anchor="middle" fill="#0d0d0d">*#$</text>
<text x="161.65" y="335.5" font-family="Liberation Sans" font-size="7" font-weight="bold" text-anchor="middle" fill="#0d0d0d">*#</text>
<text x="64" y="448.6" font-family="Liberation Sans" font-size="9.2" font-weight="bold" text-anchor="middle" fill="#0d0d0d">CON</text>
<text x="102.8" y="448.6" font-family="Liberation Sans" font-size="9.2" font-weight="bold" text-anchor="middle" fill="#0d0d0d">LOW</text>
<text x="135.35" y="448.6" font-family="Liberation Sans" font-size="9.2" font-weight="bold" text-anchor="middle" fill="#0d0d0d">MID</text>
<text x="171" y="448.6" font-family="Liberation Sans" font-size="9.2" font-weight="bold" text-anchor="middle" fill="#0d0d0d">HIGH</text>
<text x="231" y="318.6" font-family="Liberation Serif" font-size="19" font-weight="normal" text-anchor="start" fill="#0d0d0d" style="stroke:none">C2.</text>
<line x1="277.5" y1="322.6" x2="277.5" y2="436.3" stroke="#5a5a5a" stroke-width="1.0"/>
<line x1="274.7" y1="322.5" x2="277.2" y2="322.5" stroke="#5a5a5a" stroke-width="1.0"/>
<text x="273.6" y="325.44" font-family="Liberation Sans" font-size="8" font-weight="bold" text-anchor="end" fill="#0d0d0d">5.0</text>
<line x1="274.7" y1="351.5" x2="277.2" y2="351.5" stroke="#5a5a5a" stroke-width="1.0"/>
<text x="273.6" y="354.04" font-family="Liberation Sans" font-size="8" font-weight="bold" text-anchor="end" fill="#0d0d0d">2.5</text>
<line x1="274.7" y1="379.5" x2="277.2" y2="379.5" stroke="#5a5a5a" stroke-width="1.0"/>
<text x="273.6" y="382.34" font-family="Liberation Sans" font-size="8" font-weight="bold" text-anchor="end" fill="#0d0d0d">0.0</text>
<line x1="274.7" y1="408.5" x2="277.2" y2="408.5" stroke="#5a5a5a" stroke-width="1.0"/>
<text x="273.6" y="410.84" font-family="Liberation Sans" font-size="8" font-weight="bold" text-anchor="end" fill="#0d0d0d">-2.5</text>
<line x1="274.7" y1="436.5" x2="277.2" y2="436.5" stroke="#5a5a5a" stroke-width="1.0"/>
<text x="273.6" y="439.14" font-family="Liberation Sans" font-size="8" font-weight="bold" text-anchor="end" fill="#0d0d0d">-5.0</text>
<text x="242.2" y="376" font-family="Liberation Sans" font-size="6.25" font-weight="bold" text-anchor="middle" fill="#0d0d0d" transform="rotate(-90 242.2 376)">change of myocardial perfusion</text>
<text x="249.6" y="375.25" font-family="Liberation Sans" font-size="6.25" font-weight="bold" text-anchor="middle" fill="#0d0d0d" transform="rotate(-90 249.6 375.25)">defect size, % ( SPECT)</text>
<line x1="277.2" y1="379.5" x2="447" y2="379.5" stroke="#4a4a4a" stroke-width="1.0"/>
<rect x="290.5" y="335.5" width="27" height="44" fill="#fff" stroke="#2e2e2e" stroke-width="1.1"/>
<line x1="304.5" y1="335" x2="304.5" y2="330" stroke="#404040" stroke-width="1.0"/>
<line x1="297.25" y1="330.5" x2="310.75" y2="330.5" stroke="#404040" stroke-width="1.0"/>
<rect x="330.5" y="379.5" width="26" height="20" fill="#fff" stroke="#2e2e2e" stroke-width="1.1"/>
<rect x="331.95" y="380.95" width="1.1" height="1.1" fill="#161616"/>
<rect x="336.95" y="380.95" width="1.1" height="1.1" fill="#161616"/>
<rect x="342.95" y="380.95" width="1.1" height="1.1" fill="#161616"/>
<rect x="347.95" y="380.95" width="1.1" height="1.1" fill="#161616"/>
<rect x="352.95" y="380.95" width="1.1" height="1.1" fill="#161616"/>
<rect x="331.95" y="385.95" width="1.1" height="1.1" fill="#161616"/>
<rect x="336.95" y="385.95" width="1.1" height="1.1" fill="#161616"/>
<rect x="342.95" y="385.95" width="1.1" height="1.1" fill="#161616"/>
<rect x="347.95" y="385.95" width="1.1" height="1.1" fill="#161616"/>
<rect x="352.95" y="385.95" width="1.1" height="1.1" fill="#161616"/>
<rect x="331.95" y="390.95" width="1.1" height="1.1" fill="#161616"/>
<rect x="336.95" y="390.95" width="1.1" height="1.1" fill="#161616"/>
<rect x="342.95" y="390.95" width="1.1" height="1.1" fill="#161616"/>
<rect x="347.95" y="390.95" width="1.1" height="1.1" fill="#161616"/>
<rect x="352.95" y="390.95" width="1.1" height="1.1" fill="#161616"/>
<rect x="331.95" y="394.95" width="1.1" height="1.1" fill="#161616"/>
<rect x="336.95" y="394.95" width="1.1" height="1.1" fill="#161616"/>
<rect x="342.95" y="394.95" width="1.1" height="1.1" fill="#161616"/>
<rect x="347.95" y="394.95" width="1.1" height="1.1" fill="#161616"/>
<rect x="352.95" y="394.95" width="1.1" height="1.1" fill="#161616"/>
<line x1="343.5" y1="399.6" x2="343.5" y2="404.9" stroke="#404040" stroke-width="1.0"/>
<line x1="336.6" y1="404.5" x2="349.8" y2="404.5" stroke="#404040" stroke-width="1.0"/>
<rect x="369.5" y="379.5" width="26" height="52" fill="url(#p3)" stroke="#2e2e2e" stroke-width="1.1"/>
<line x1="382.5" y1="431.5" x2="382.5" y2="435.7" stroke="#404040" stroke-width="1.0"/>
<rect x="408.5" y="379.5" width="26" height="35" fill="#000" stroke="#2e2e2e" stroke-width="1.1"/>
<line x1="421.5" y1="414.7" x2="421.5" y2="419.6" stroke="#404040" stroke-width="1.0"/>
<line x1="414.62" y1="419.5" x2="427.88" y2="419.5" stroke="#404040" stroke-width="1.0"/>
<text x="344.25" y="337" font-family="Liberation Sans" font-size="5.5" font-weight="bold" text-anchor="middle" fill="#0d0d0d">*</text>
<text x="377.25" y="335" font-family="Liberation Sans" font-size="7" font-weight="bold" text-anchor="middle" fill="#0d0d0d">*#$</text>
<text x="421.25" y="335" font-family="Liberation Sans" font-size="7" font-weight="bold" text-anchor="middle" fill="#0d0d0d">* #</text>
<text x="307.5" y="448" font-family="Liberation Sans" font-size="9.2" font-weight="bold" text-anchor="middle" fill="#0d0d0d">CON</text>
<text x="347.75" y="448" font-family="Liberation Sans" font-size="9.2" font-weight="bold" text-anchor="middle" fill="#0d0d0d">LOW</text>
<text x="384.35" y="448" font-family="Liberation Sans" font-size="9.2" font-weight="bold" text-anchor="middle" fill="#0d0d0d">MID</text>
<text x="424.15" y="448" font-family="Liberation Sans" font-size="9.2" font-weight="bold" text-anchor="middle" fill="#0d0d0d">HIGH</text>
<text x="462.2" y="319.3" font-family="Liberation Serif" font-size="17.3" font-weight="normal" text-anchor="start" fill="#0d0d0d" style="stroke:none">D.</text>
<line x1="509.5" y1="318" x2="509.5" y2="437.25" stroke="#5a5a5a" stroke-width="1.0"/>
<line x1="506.8" y1="318.5" x2="509.3" y2="318.5" stroke="#5a5a5a" stroke-width="1.0"/>
<text x="505" y="320.91" font-family="Liberation Sans" font-size="8.2" font-weight="normal" text-anchor="end" fill="#0d0d0d">15</text>
<line x1="506.8" y1="347.5" x2="509.3" y2="347.5" stroke="#5a5a5a" stroke-width="1.0"/>
<text x="505" y="350.41" font-family="Liberation Sans" font-size="8.2" font-weight="normal" text-anchor="end" fill="#0d0d0d">10</text>
<line x1="506.8" y1="377.5" x2="509.3" y2="377.5" stroke="#5a5a5a" stroke-width="1.0"/>
<text x="505" y="380.41" font-family="Liberation Sans" font-size="8.2" font-weight="normal" text-anchor="end" fill="#0d0d0d">5</text>
<line x1="506.8" y1="407.5" x2="509.3" y2="407.5" stroke="#5a5a5a" stroke-width="1.0"/>
<text x="505" y="410.41" font-family="Liberation Sans" font-size="8.2" font-weight="normal" text-anchor="end" fill="#0d0d0d">0</text>
<line x1="506.8" y1="437.5" x2="509.3" y2="437.5" stroke="#5a5a5a" stroke-width="1.0"/>
<text x="505" y="440.16" font-family="Liberation Sans" font-size="8.2" font-weight="normal" text-anchor="end" fill="#0d0d0d">-5</text>
<text x="489.6" y="370" font-family="Liberation Sans" font-size="10" font-weight="bold" text-anchor="middle" fill="#0d0d0d" transform="rotate(-90 489.6 370)"><tspan style="stroke:none">Myocaridal viability, %</tspan></text>
<line x1="509.3" y1="407.5" x2="664.8" y2="407.5" stroke="#4a4a4a" stroke-width="1.0"/>
<rect x="521.5" y="407.5" width="25" height="10" fill="#fff" stroke="#2e2e2e" stroke-width="1.1"/>
<line x1="534.5" y1="417.5" x2="534.5" y2="419.5" stroke="#404040" stroke-width="1.0"/>
<line x1="527.94" y1="419.5" x2="540.31" y2="419.5" stroke="#404040" stroke-width="1.0"/>
<rect x="558.5" y="375.5" width="25" height="32" fill="#fff" stroke="#2e2e2e" stroke-width="1.1"/>
<rect x="559.95" y="376.95" width="1.1" height="1.1" fill="#161616"/>
<rect x="564.95" y="376.95" width="1.1" height="1.1" fill="#161616"/>
<rect x="569.95" y="376.95" width="1.1" height="1.1" fill="#161616"/>
<rect x="574.95" y="376.95" width="1.1" height="1.1" fill="#161616"/>
<rect x="578.95" y="376.95" width="1.1" height="1.1" fill="#161616"/>
<rect x="559.95" y="381.95" width="1.1" height="1.1" fill="#161616"/>
<rect x="564.95" y="381.95" width="1.1" height="1.1" fill="#161616"/>
<rect x="569.95" y="381.95" width="1.1" height="1.1" fill="#161616"/>
<rect x="574.95" y="381.95" width="1.1" height="1.1" fill="#161616"/>
<rect x="578.95" y="381.95" width="1.1" height="1.1" fill="#161616"/>
<rect x="559.95" y="385.95" width="1.1" height="1.1" fill="#161616"/>
<rect x="564.95" y="385.95" width="1.1" height="1.1" fill="#161616"/>
<rect x="569.95" y="385.95" width="1.1" height="1.1" fill="#161616"/>
<rect x="574.95" y="385.95" width="1.1" height="1.1" fill="#161616"/>
<rect x="578.95" y="385.95" width="1.1" height="1.1" fill="#161616"/>
<rect x="559.95" y="390.95" width="1.1" height="1.1" fill="#161616"/>
<rect x="564.95" y="390.95" width="1.1" height="1.1" fill="#161616"/>
<rect x="569.95" y="390.95" width="1.1" height="1.1" fill="#161616"/>
<rect x="574.95" y="390.95" width="1.1" height="1.1" fill="#161616"/>
<rect x="578.95" y="390.95" width="1.1" height="1.1" fill="#161616"/>
<rect x="559.95" y="395.95" width="1.1" height="1.1" fill="#161616"/>
<rect x="564.95" y="395.95" width="1.1" height="1.1" fill="#161616"/>
<rect x="569.95" y="395.95" width="1.1" height="1.1" fill="#161616"/>
<rect x="574.95" y="395.95" width="1.1" height="1.1" fill="#161616"/>
<rect x="578.95" y="395.95" width="1.1" height="1.1" fill="#161616"/>
<rect x="559.95" y="399.95" width="1.1" height="1.1" fill="#161616"/>
<rect x="564.95" y="399.95" width="1.1" height="1.1" fill="#161616"/>
<rect x="569.95" y="399.95" width="1.1" height="1.1" fill="#161616"/>
<rect x="574.95" y="399.95" width="1.1" height="1.1" fill="#161616"/>
<rect x="578.95" y="399.95" width="1.1" height="1.1" fill="#161616"/>
<rect x="559.95" y="404.95" width="1.1" height="1.1" fill="#161616"/>
<rect x="564.95" y="404.95" width="1.1" height="1.1" fill="#161616"/>
<rect x="569.95" y="404.95" width="1.1" height="1.1" fill="#161616"/>
<rect x="574.95" y="404.95" width="1.1" height="1.1" fill="#161616"/>
<rect x="578.95" y="404.95" width="1.1" height="1.1" fill="#161616"/>
<line x1="571.5" y1="375" x2="571.5" y2="365.25" stroke="#404040" stroke-width="1.0"/>
<line x1="564.81" y1="365.5" x2="577.44" y2="365.5" stroke="#404040" stroke-width="1.0"/>
<rect x="595.5" y="346.5" width="24" height="61" fill="url(#p3)" stroke="#2e2e2e" stroke-width="1.1"/>
<line x1="607.5" y1="346.25" x2="607.5" y2="337" stroke="#404040" stroke-width="1.0"/>
<line x1="601.38" y1="337.5" x2="613.53" y2="337.5" stroke="#404040" stroke-width="1.0"/>
<rect x="632.5" y="364.5" width="24" height="43" fill="#000" stroke="#2e2e2e" stroke-width="1.1"/>
<line x1="644.5" y1="364.3" x2="644.5" y2="352.5" stroke="#404040" stroke-width="1.0"/>
<line x1="638.12" y1="352.5" x2="650.38" y2="352.5" stroke="#404040" stroke-width="1.0"/>
<text x="566.3" y="325.8" font-family="Liberation Sans" font-size="5.5" font-weight="bold" text-anchor="middle" fill="#0d0d0d">*</text>
<text x="606.6" y="323.7" font-family="Liberation Sans" font-size="8.2" font-weight="bold" text-anchor="middle" fill="#0d0d0d">*#<tspan font-weight="normal" font-size="1.25em" dx="1">&#916;</tspan></text>
<text x="644.2" y="323.9" font-family="Liberation Sans" font-size="8.2" font-weight="bold" text-anchor="middle" fill="#0d0d0d">*#</text>
<text x="536.25" y="453.3" font-family="Liberation Sans" font-size="9.2" font-weight="bold" text-anchor="middle" fill="#0d0d0d">CON</text>
<text x="576" y="453.3" font-family="Liberation Sans" font-size="9.2" font-weight="bold" text-anchor="middle" fill="#0d0d0d">LOW</text>
<text x="610.75" y="453.3" font-family="Liberation Sans" font-size="9.2" font-weight="bold" text-anchor="middle" fill="#0d0d0d">MID</text>
<text x="642.9" y="453.3" font-family="Liberation Sans" font-size="9.2" font-weight="bold" text-anchor="middle" fill="#0d0d0d">HIGH</text></svg>
</body></html>
